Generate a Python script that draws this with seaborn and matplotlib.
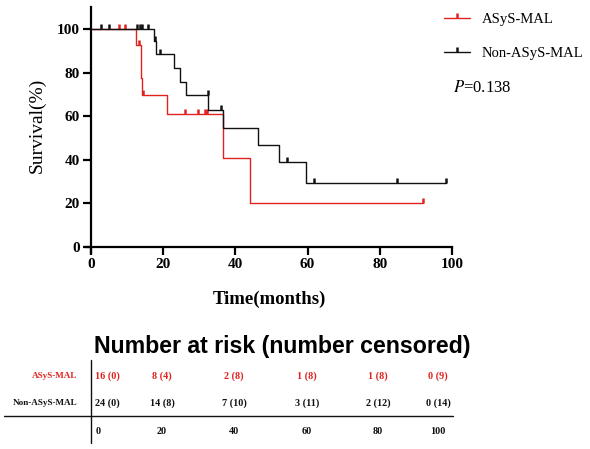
import numpy as np
import matplotlib
matplotlib.use("Agg")
import matplotlib.pyplot as plt
import seaborn as sns
from matplotlib.path import Path
from matplotlib.lines import Line2D

# 生存データ（月数, 1=イベント, 0=打ち切り）
red_times = [7.8, 9.4, 12.6, 13.2, 13.8, 13.8, 14.2, 14.5, 21.0, 26.0, 29.7, 31.5, 32.0, 36.7, 44.0, 92.0]
red_events = [0, 0, 1, 0, 1, 1, 1, 0, 1, 0, 0, 0, 0, 1, 1, 0]
black_times = [2.8, 5.0, 12.7, 13.5, 14.0, 15.9, 17.5, 17.8, 18.0, 19.0, 23.1, 24.7,
               26.3, 32.3, 32.5, 36.0, 36.7, 46.2, 52.0, 54.2, 59.6, 61.9, 84.7, 98.3]
black_events = [0, 0, 0, 0, 0, 0, 1, 0, 1, 0, 1, 1, 1, 0, 1, 0, 1, 1, 1, 0, 1, 0, 0, 0]

group_names = ["ASyS-MAL", "Non-ASyS-MAL"]
p_value = "0.138"

# リスク表
risk_times = [0, 20, 40, 60, 80, 100]
red_at_risk = [16, 8, 2, 1, 1, 0]
red_censored = [0, 4, 8, 8, 8, 9]
black_at_risk = [24, 14, 7, 3, 2, 0]
black_censored = [0, 8, 10, 11, 12, 14]

RED = "#e0231f"
BLACK = "#111111"


def km_curve(times, events):
    t = np.asarray(times, dtype=float)
    e = np.asarray(events)
    order = np.argsort(t, kind="stable")
    t, e = t[order], e[order]
    xs, ys = [0.0], [100.0]
    cx, cy = [], []
    s = 1.0
    n = len(t)
    for ti, ei in zip(t, e):
        if ei:
            s *= (n - 1) / n
            xs.append(ti)
            ys.append(s * 100)
        else:
            cx.append(ti)
            cy.append(s * 100)
        n -= 1
    xs.append(t.max())
    ys.append(s * 100)
    return xs, ys, cx, cy


sns.set_style("ticks")
plt.rcParams["font.family"] = ["Liberation Serif", "DejaVu Serif"]
plt.rcParams["mathtext.fontset"] = "stix"
for key in ["text.color", "axes.labelcolor", "xtick.color", "ytick.color", "axes.edgecolor"]:
    plt.rcParams[key] = "black"

fig = plt.figure(figsize=(5.9, 4.49), dpi=100)

# 表用の座標（ピクセル単位）
tab = fig.add_axes([0, 0, 1, 1])
tab.set_xlim(0, 590)
tab.set_ylim(449, 0)
tab.axis("off")

ax = fig.add_axes([85.6 / 590, 1 - 253.5 / 449, (452 - 85.6) / 590, (253.5 - 7.2) / 449])
ax.patch.set_alpha(0)

tick_marker = Path([(0, 0), (0, 1)], [Path.MOVETO, Path.LINETO])

handles = []
for times, events, color, name in [(red_times, red_events, RED, group_names[0]),
                                   (black_times, black_events, BLACK, group_names[1])]:
    xs, ys, cx, cy = km_curve(times, events)
    sns.lineplot(x=xs, y=ys, drawstyle="steps-post", color=color, linewidth=1.0,
                 estimator=None, sort=False, ax=ax)
    ax.plot(cx, cy, linestyle="none", marker=tick_marker, ms=7, mew=1.8, color=color)
    handles.append(Line2D([], [], color=color, lw=1.0, marker=tick_marker, ms=7, mew=1.8, label=name))

ax.set_xlim(-1.5, 100)
ax.set_ylim(-3, 110)
ax.spines["left"].set_position(("data", 0))
ax.spines["bottom"].set_position(("data", 0))
ax.spines["right"].set_visible(False)
ax.spines["top"].set_visible(False)
for sp in ["left", "bottom"]:
    ax.spines[sp].set_linewidth(1.6)
ax.set_xticks(range(0, 101, 20))
ax.set_yticks(range(0, 101, 20))
ax.tick_params(direction="out", length=6, width=1.6, labelsize=11, pad=2)
for lab in ax.get_xticklabels() + ax.get_yticklabels():
    lab.set_fontweight("bold")

ax.set_xlabel("Time(months)", fontsize=13.5, fontweight="bold")
ax.xaxis.set_label_coords(0.503, -0.152)
ax.set_ylabel("Survival(%)", fontsize=14)
ax.yaxis.set_label_coords(-0.108, 0.52)

fig.legend(handles=handles, loc="upper left", bbox_to_anchor=(444 / 590, 1 - 13 / 449),
           bbox_transform=fig.transFigure, frameon=False, fontsize=10.5, handlelength=1.8,
           handletextpad=0.8, labelspacing=1.4, borderpad=0, borderaxespad=0, numpoints=1)
fig.text(453 / 590, 1 - 88 / 449, r"$\mathit{P}$=" + p_value, fontsize=12, va="center", ha="left")

# リスク表の描画
col_px = [95, 162, 234, 307, 378, 438]
row_y = [375.7, 403.3, 431]
tab.text(282, 347, "Number at risk (number censored)", family="Liberation Sans",
         fontweight="bold", fontsize=16.7, ha="center", va="center")
tab.text(77, row_y[0], group_names[0], color=RED, fontweight="bold", fontsize=6.6,
         ha="right", va="center")
tab.text(77, row_y[1], group_names[1], color=BLACK, fontweight="bold", fontsize=6.6,
         ha="right", va="center")
for i, (t, ra, rc, ba, bc) in enumerate(zip(risk_times, red_at_risk, red_censored,
                                            black_at_risk, black_censored)):
    ha = "left" if i == 0 else "center"
    kw = dict(fontweight="bold", fontsize=7.3, ha=ha, va="center")
    tab.text(col_px[i], row_y[0], f"{ra} ({rc})", color=RED, **kw)
    tab.text(col_px[i], row_y[1], f"{ba} ({bc})", color=BLACK, **kw)
    tab.text(col_px[i] + (1 if i == 0 else 0), row_y[2], f"{t}", color=BLACK, **kw)
tab.plot([4, 453], [416, 416], color=BLACK, lw=1)
tab.plot([90.7, 90.7], [360, 443], color=BLACK, lw=1)

fig.savefig("out.png", dpi=100)
